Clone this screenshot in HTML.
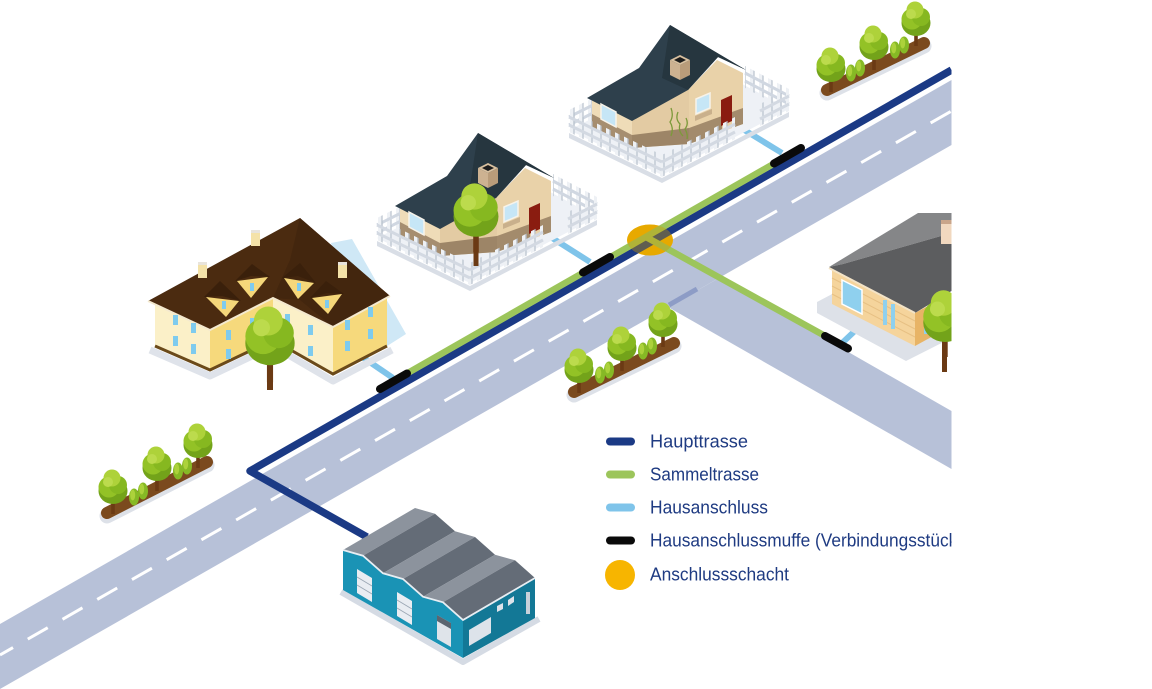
<!DOCTYPE html>
<html><head><meta charset="utf-8"><style>
html,body{margin:0;padding:0;background:#fff;}
svg{display:block;}
</style></head><body>
<svg width="1152" height="689" viewBox="0 0 1152 689" xmlns="http://www.w3.org/2000/svg" xmlns:xlink="http://www.w3.org/1999/xlink">
<defs>
<clipPath id="c"><rect x="0" y="0" width="951.5" height="689"/></clipPath>
<pattern id="posts" patternUnits="userSpaceOnUse" width="9" height="60"><rect x="0" y="0" width="9" height="60" fill="none"/><rect x="0" y="0" width="3.4" height="60" fill="#eef1f5"/><rect x="3.4" y="0" width="1.2" height="60" fill="#b7c0cc"/></pattern>
<g id="tree">
 <rect x="-1.8" y="4" width="3.6" height="22" fill="#6b3a14"/>
 <ellipse cx="0" cy="3" rx="14.5" ry="13" fill="#73a31a"/>
 <circle cx="-4" cy="-1" r="10.5" fill="#93c226"/>
 <circle cx="5" cy="-3" r="9" fill="#86b820"/>
 <circle cx="-1" cy="-10" r="8.5" fill="#aed23a"/>
 <circle cx="-5" cy="-6" r="5" fill="#bcdb4d"/>
</g>
<g id="cone"><ellipse cx="0" cy="0" rx="5" ry="8.5" fill="#86b925"/><ellipse cx="-1.3" cy="-2" rx="2.5" ry="5.5" fill="#acd23b"/></g>
<g id="h2">
 <polygon points="377,241 470,286 597,220 597,225 470,291 377,246" fill="#d9dee6"/>
 <polygon points="377,238 470,283 597,217 552,193 500,165 401,226" fill="#eef1f6"/>
 <polygon points="377,240 401,228 401,206 377,218" fill="url(#posts)"/>
 <line x1="377" y1="233" x2="401" y2="221" stroke="#d0d7e1" stroke-width="3"/>
 <line x1="377" y1="225" x2="401" y2="213" stroke="#d0d7e1" stroke-width="3"/>
 <polygon points="597,219 553,196 553,174 597,197" fill="url(#posts)"/>
 <line x1="597" y1="212" x2="553" y2="189" stroke="#d0d7e1" stroke-width="3"/>
 <line x1="597" y1="204" x2="553" y2="181" stroke="#d0d7e1" stroke-width="3"/>
 <polygon points="400,205 440,226 440,256 400,235" fill="#efdcb8"/>
 <polygon points="440,226 497,197 497,252 440,256" fill="#e3cba3"/>
 <polygon points="497,197 525,168 551,181 551,232 497,252" fill="#e9d2a9"/>
 <polygon points="400,222 440,243 440,256 400,235" fill="#a68e70"/>
 <polygon points="440,243 497,236 497,252 440,256" fill="#9d8567"/>
 <polygon points="497,236 530,224 530,240 497,252" fill="#a38b6c"/>
 <polygon points="540,220 551,216 551,232 540,236" fill="#a38b6c"/>
 <polygon points="395,206 447,176 478,133 554,178 526,165 496,198 440,229" fill="#2e404c"/>
 <polygon points="478,133 554,178 526,165 496,198 470,186" fill="#26363f"/>
 <polygon points="478,168 488,173 488,188 478,183" fill="#cdb291"/>
 <polygon points="488,173 498,168 498,183 488,188" fill="#b99c7a"/>
 <polygon points="478,168 488,163 498,168 488,173" fill="#d8c09f"/>
 <polygon points="482,168 488,165 494,168 488,171" fill="#1d1d1d"/>
 <polygon points="409,212 424,220 424,235 409,227" fill="#c6e6f6" stroke="#f7f3ea" stroke-width="1.5"/>
 <polygon points="504,207 518,201 518,216 504,222" fill="#c6e6f6" stroke="#f7f3ea" stroke-width="1.5"/>
 <polygon points="503,224 520,217 520,222 503,229" fill="#c9b08c"/>
 <polygon points="529,208 540,203 540,229 529,234" fill="#8a1c10"/>
 <polygon points="377,240 470,285 470,263 377,218" fill="url(#posts)"/>
 <line x1="377" y1="233" x2="470" y2="278" stroke="#d3d9e2" stroke-width="3"/>
 <line x1="377" y1="225" x2="470" y2="270" stroke="#d3d9e2" stroke-width="3"/>
 <polygon points="470,285 543,247 543,225 470,263" fill="url(#posts)"/>
 <line x1="470" y1="278" x2="543" y2="240" stroke="#d3d9e2" stroke-width="3"/>
 <line x1="470" y1="270" x2="543" y2="232" stroke="#d3d9e2" stroke-width="3"/>
 <polygon points="568,234 597,219 597,197 568,212" fill="url(#posts)"/>
 <line x1="568" y1="227" x2="597" y2="212" stroke="#d3d9e2" stroke-width="3"/>
 <line x1="568" y1="219" x2="597" y2="204" stroke="#d3d9e2" stroke-width="3"/>
</g>
</defs>

<g clip-path="url(#c)">
 <polygon points="0,624 951.5,80 951.5,145 0,689" fill="#b7c1d8"/>
 <polygon points="668,307 719,278 951.5,411 951.5,469" fill="#b7c1d8"/>
 <line x1="0" y1="655" x2="951.5" y2="111" stroke="#fff" stroke-width="3" stroke-dasharray="23 17" stroke-dashoffset="8"/>
 <line x1="669" y1="305" x2="697" y2="289" stroke="#8d9cc6" stroke-width="5"/>

 <polygon points="331,243 352,239 406,334 384,348 345,305" fill="#cfe8f6"/>

 <g stroke="#7fc4ea" stroke-width="6" stroke-linecap="butt">
  <line x1="358" y1="354" x2="393" y2="378"/>
  <line x1="549" y1="236" x2="590" y2="262"/>
  <line x1="741" y1="128" x2="782" y2="153"/>
  <line x1="840" y1="345" x2="859" y2="327"/>
 </g>

 <ellipse cx="650" cy="240" rx="23" ry="15.5" fill="#f6b400"/>

 <polyline points="951.5,70 250,471 367,537" fill="none" stroke="#1b3a85" stroke-width="7.5" stroke-linejoin="round"/>
 <line x1="378" y1="390" x2="803" y2="147" stroke="#9cc55b" stroke-width="6.5"/>
 <line x1="646" y1="237" x2="836" y2="342" stroke="#9cc55b" stroke-width="6.5"/>
 <ellipse cx="650" cy="240" rx="23" ry="15.5" fill="#f6b400" opacity="0.35"/>
 <ellipse cx="650" cy="240" rx="23" ry="15.5" fill="#000" opacity="0.06"/>

 <g stroke="#0a0a0a" stroke-width="8" stroke-linecap="round">
  <line x1="380" y1="389" x2="407" y2="373.5"/>
  <line x1="583" y1="272.5" x2="610" y2="257"/>
  <line x1="774" y1="163.5" x2="801" y2="148"/>
  <line x1="825" y1="336" x2="848" y2="348.5"/>
 </g>

 <g>
  <line x1="107" y1="516" x2="207" y2="465" stroke="#dde1e8" stroke-width="15" stroke-linecap="round"/>
  <line x1="107" y1="513" x2="207" y2="462" stroke="#7b4a1e" stroke-width="12" stroke-linecap="round"/>
  <use xlink:href="#tree" href="#tree" x="198" y="442"/>
  <use xlink:href="#cone" href="#cone" x="187" y="466"/>
  <use xlink:href="#cone" href="#cone" x="178" y="471"/>
  <use xlink:href="#tree" href="#tree" x="157" y="465"/>
  <use xlink:href="#cone" href="#cone" x="143" y="491"/>
  <use xlink:href="#cone" href="#cone" x="134" y="497"/>
  <use xlink:href="#tree" href="#tree" x="113" y="488"/>
 </g>
 <g>
  <line x1="574" y1="395" x2="674" y2="346" stroke="#dde1e8" stroke-width="15" stroke-linecap="round"/>
  <line x1="574" y1="392" x2="674" y2="343" stroke="#7b4a1e" stroke-width="12" stroke-linecap="round"/>
  <use xlink:href="#tree" href="#tree" x="663" y="321"/>
  <use xlink:href="#cone" href="#cone" x="652" y="346"/>
  <use xlink:href="#cone" href="#cone" x="643" y="351"/>
  <use xlink:href="#tree" href="#tree" x="622" y="345"/>
  <use xlink:href="#cone" href="#cone" x="609" y="370"/>
  <use xlink:href="#cone" href="#cone" x="600" y="375"/>
  <use xlink:href="#tree" href="#tree" x="579" y="367"/>
 </g>
 <g>
  <line x1="827" y1="93" x2="924" y2="46" stroke="#dde1e8" stroke-width="15" stroke-linecap="round"/>
  <line x1="827" y1="90" x2="924" y2="43" stroke="#7b4a1e" stroke-width="12" stroke-linecap="round"/>
  <use xlink:href="#tree" href="#tree" x="916" y="20"/>
  <use xlink:href="#cone" href="#cone" x="904" y="45"/>
  <use xlink:href="#cone" href="#cone" x="895" y="50"/>
  <use xlink:href="#tree" href="#tree" x="874" y="44"/>
  <use xlink:href="#cone" href="#cone" x="860" y="68"/>
  <use xlink:href="#cone" href="#cone" x="851" y="73"/>
  <use xlink:href="#tree" href="#tree" x="831" y="66"/>
 </g>

 <use xlink:href="#h2" href="#h2" transform="translate(192,-108)"/>
 <g stroke="#7c9a3a" stroke-width="1.3" fill="none">
  <path d="M671,108 q3,8 -1,14 q4,6 1,14"/>
  <path d="M678,112 q-3,7 2,12 q-2,7 3,12"/>
  <path d="M686,118 q3,6 -1,11 q3,5 2,10"/>
 </g>
 <use xlink:href="#h2" href="#h2"/>
 <rect x="473.5" y="222" width="5" height="44" fill="#6b3a14"/>
 <use xlink:href="#tree" href="#tree" transform="translate(476,212) scale(1.55)"/>

 <g>
  <polyline points="150,350 210,376 273,346 333,381 392,350" fill="none" stroke="#dfe3ea" stroke-width="7" stroke-linejoin="round"/>
  <polygon points="155,300 210,328 210,370 155,346" fill="#fbf0c8"/>
  <polygon points="210,328 273,298 273,340 210,370" fill="#f6d97c"/>
  <polygon points="273,298 333,326 333,374 273,340" fill="#fbf0c8"/>
  <polygon points="333,326 387,296 387,346 333,374" fill="#f6d97c"/>
  <polyline points="155,346 210,370 273,340 333,374 387,346" fill="none" stroke="#6b4a1a" stroke-width="3"/>
  <polygon points="148,301 300,218 390,296 333,327 273,298 210,330" fill="#4b2b10"/>
  <polygon points="300,218 390,296 333,327 300,300 273,298 290,260" fill="#43260e"/>
  <polyline points="148,301 210,330 273,298 333,327 390,296" fill="none" stroke="#f4e9cf" stroke-width="2"/>
  <rect x="198" y="264" width="9" height="14" fill="#f4e2a8"/><rect x="198" y="262" width="9" height="3" fill="#e8e4dc"/>
  <rect x="251" y="232" width="9" height="14" fill="#f4e2a8"/><rect x="251" y="230" width="9" height="3" fill="#e8e4dc"/>
  <rect x="338" y="264" width="9" height="14" fill="#f4e2a8"/><rect x="338" y="262" width="9" height="3" fill="#e8e4dc"/>
  <g fill="#f5d77a">
   <polygon points="206,297 239,301 226,317"/>
   <polygon points="237,281 268,277 251,298"/>
   <polygon points="284,278 314,283 298,299"/>
   <polygon points="312,298 342,294 328,314"/>
  </g>
  <g fill="#3a200b">
   <polygon points="204,297 220,281 241,301 222,296"/>
   <polygon points="235,281 252,264 270,277 251,276"/>
   <polygon points="282,278 300,263 316,283 298,276"/>
   <polygon points="310,298 326,281 344,294 327,293"/>
  </g>
  <g fill="#7ecbee">
   <rect x="222" y="301" width="4" height="8"/>
   <rect x="250" y="283" width="4" height="8"/>
   <rect x="297" y="283" width="4" height="8"/>
   <rect x="325" y="300" width="4" height="8"/>
   <rect x="173" y="315" width="5" height="10"/><rect x="191" y="323" width="5" height="10"/>
   <rect x="173" y="336" width="5" height="10"/><rect x="191" y="344" width="5" height="10"/>
   <rect x="226" y="330" width="5" height="10"/><rect x="226" y="349" width="5" height="10"/>
   <rect x="250" y="318" width="5" height="10"/>
   <rect x="285" y="314" width="5" height="10"/><rect x="308" y="325" width="5" height="10"/>
   <rect x="285" y="334" width="5" height="10"/><rect x="308" y="346" width="5" height="10"/>
   <rect x="345" y="320" width="5" height="10"/><rect x="368" y="307" width="5" height="10"/>
   <rect x="345" y="341" width="5" height="10"/><rect x="368" y="329" width="5" height="10"/>
  </g>
  <rect x="267" y="350" width="6" height="40" fill="#6b3a14"/>
  <use xlink:href="#tree" href="#tree" transform="translate(270,338) scale(1.7)"/>
 </g>

 <g>
  <polygon points="817,302 836,292 918,337 951.5,318 951.5,338 906,361 817,313" fill="#dde1e8"/>
  <polygon points="832,270 915,313 915,346 832,304" fill="#f5d49c"/>
  <g stroke="#e7c084" stroke-width="1">
   <line x1="832" y1="278" x2="915" y2="321"/><line x1="832" y1="286" x2="915" y2="329"/>
   <line x1="832" y1="294" x2="915" y2="337"/>
  </g>
  <polygon points="915,313 951.5,293 951.5,326 915,346" fill="#e8b466"/>
  <polygon points="829,267 918,213 951.5,213 951.5,233 843,264" fill="#858688"/>
  <polygon points="843,264 951.5,233 951.5,291 915,313 829,267" fill="#5c5d5f"/>
  <line x1="829" y1="268" x2="915" y2="313" stroke="#f3e3c6" stroke-width="2"/>
  <rect x="941" y="222" width="11" height="22" fill="#f1d8bf"/>
  <rect x="941" y="220" width="11" height="4" fill="#c9a58a"/>
  <polygon points="842,280 862,290 862,314 842,304" fill="#8fd0ee" stroke="#fff" stroke-width="1.5"/>
  <rect x="883" y="300" width="4" height="25" fill="#8fd0ee"/>
  <rect x="891" y="304" width="4" height="25" fill="#8fd0ee"/>
  <rect x="924" y="316" width="5" height="18" fill="#8fd0ee"/>
  <rect x="942" y="330" width="5" height="42" fill="#6b3a14"/>
  <use xlink:href="#tree" href="#tree" transform="translate(945,318) scale(1.5)"/>
 </g>

 <g>
  <polyline points="341,592 463,662 539,619" fill="none" stroke="#d5dbe4" stroke-width="6" stroke-linejoin="round"/>
  <polygon points="343,550 363,555.7 383,573.3 403,579 423,596.7 443,602.3 463,620 463,658 343,590" fill="#1a93b5"/>
  <polygon points="463,620 535,578 535,618 463,658" fill="#137896"/>
  <polygon points="343,550 363,555.7 435,513.7 415,508" fill="#8c939d"/>
  <polygon points="363,555.7 383,573.3 455,531.3 435,513.7" fill="#646c77"/>
  <polygon points="383,573.3 403,579 475,537 455,531.3" fill="#8c939d"/>
  <polygon points="403,579 423,596.7 495,554.7 475,537" fill="#646c77"/>
  <polygon points="423,596.7 443,602.3 515,560.3 495,554.7" fill="#8c939d"/>
  <polygon points="443,602.3 463,620 535,578 515,560.3" fill="#646c77"/>
  <polyline points="343,550 363,555.7 383,573.3 403,579 423,596.7 443,602.3 463,620 535,578" fill="none" stroke="#e8eef3" stroke-width="1.8"/>
  <polygon points="357,569 372,578 372,602 357,593" fill="#e9edf2"/>
  <polygon points="397,592 412,601 412,625 397,616" fill="#e9edf2"/>
  <polygon points="437,615 451,623 451,647 437,639" fill="#dfe4ea"/>
  <polygon points="437,615 451,623 451,629 437,621" fill="#5b6570"/>
  <g stroke="#9aa6b3" stroke-width="0.8">
   <line x1="357" y1="577" x2="372" y2="586"/><line x1="357" y1="585" x2="372" y2="594"/>
   <line x1="397" y1="600" x2="412" y2="609"/><line x1="397" y1="608" x2="412" y2="617"/>
  </g>
  <polygon points="469,630 491,617 491,633 469,646" fill="#dde3ea"/>
  <polygon points="497,606 503,603 503,609 497,612" fill="#dde3ea"/>
  <polygon points="508,600 514,596 514,602 508,606" fill="#dde3ea"/>
  <rect x="526" y="592" width="4" height="22" fill="#c8d1da"/>
 </g>

 <g stroke-linecap="round" stroke-width="8">
  <line x1="610" y1="441.5" x2="631" y2="441.5" stroke="#1b3a85"/>
  <line x1="610" y1="474.5" x2="631" y2="474.5" stroke="#9cc55b"/>
  <line x1="610" y1="507.5" x2="631" y2="507.5" stroke="#7fc4ea"/>
  <line x1="610" y1="540.5" x2="631" y2="540.5" stroke="#0a0a0a"/>
 </g>
 <circle cx="620" cy="575" r="15" fill="#f7b500"/>
 <g font-family="Liberation Sans, sans-serif" font-size="18" fill="#1f3b82">
  <text x="650" y="447.5" textLength="98" lengthAdjust="spacingAndGlyphs">Haupttrasse</text>
  <text x="650" y="480.5" textLength="109" lengthAdjust="spacingAndGlyphs">Sammeltrasse</text>
  <text x="650" y="513.5" textLength="118" lengthAdjust="spacingAndGlyphs">Hausanschluss</text>
  <text x="650" y="546.5" textLength="313" lengthAdjust="spacingAndGlyphs">Hausanschlussmuffe (Verbindungsstück)</text>
  <text x="650" y="580.5" textLength="139" lengthAdjust="spacingAndGlyphs">Anschlussschacht</text>
 </g>
</g>
</svg>
</body></html>
